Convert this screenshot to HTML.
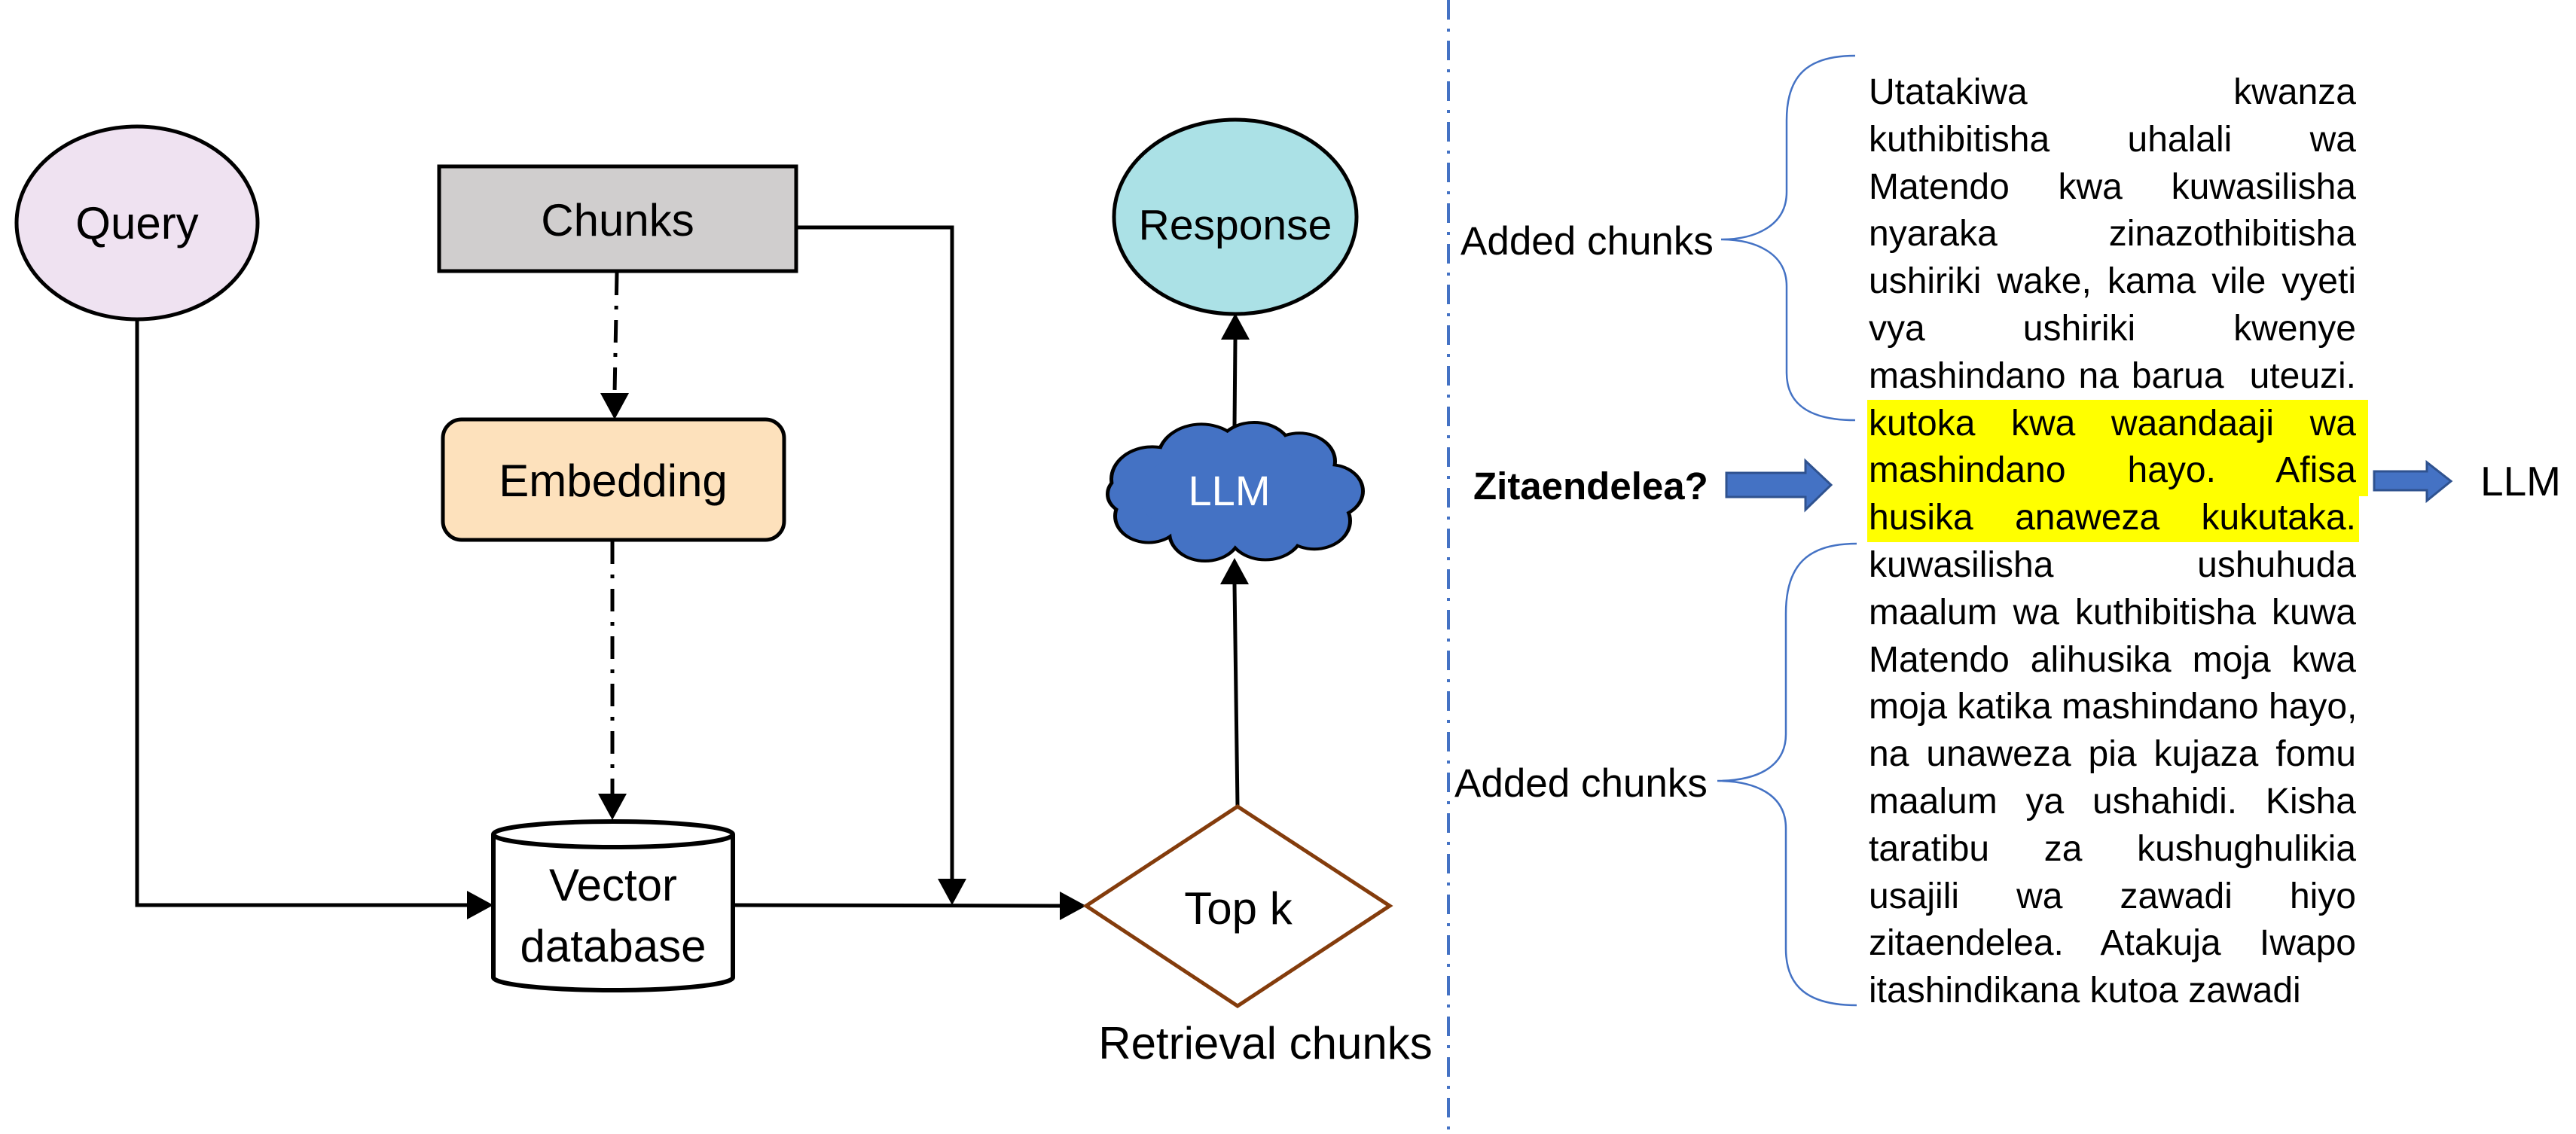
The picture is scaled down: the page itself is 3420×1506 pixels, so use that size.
<!DOCTYPE html>
<html><head><meta charset="utf-8">
<style>
html,body{margin:0;padding:0;background:#fff;}
svg{display:block;}
.t{font-family:"Liberation Sans",sans-serif;}
#blk{position:absolute;left:2481px;top:92px;width:647px;font-family:"Liberation Sans",sans-serif;font-size:48px;line-height:62.8px;color:#000;}
#blk div{text-align:justify;text-align-last:justify;white-space:nowrap;height:62.8px;}
#blk div.l{text-align-last:left;}
</style></head>
<body style="width:3420px;height:1506px;position:relative;overflow:hidden;">
<svg width="3420" height="1506" viewBox="0 0 3420 1506" xmlns="http://www.w3.org/2000/svg" style="position:absolute;left:0;top:0;">
<!-- yellow highlight -->
<rect x="2479" y="531" width="665" height="128" fill="#ffff00"/>
<rect x="2479" y="658" width="653" height="62" fill="#ffff00"/>

<!-- connectors -->
<g stroke="#000" stroke-width="5" fill="none">
<polyline points="182,424 182,1202 622,1202"/>
<polyline points="1057,302 1264,302 1264,1168"/>
<line x1="973" y1="1202" x2="1408" y2="1203"/>
<line x1="819" y1="362" x2="816" y2="522" stroke-dasharray="30,14,5,14"/>
<line x1="813" y1="719" x2="813" y2="1054" stroke-dasharray="30,14,5,14"/>
<line x1="1643" y1="1071" x2="1639" y2="776"/>
<line x1="1639" y1="566" x2="1640" y2="451"/>
</g>
<g fill="#000">
<polygon points="655,1202 620,1183 620,1221"/>
<polygon points="1264,1202 1245,1167 1283,1167"/>
<polygon points="1442,1203 1407,1184 1407,1222"/>
<polygon points="816,557 797,522 835,522"/>
<polygon points="813,1089 794,1054 832,1054"/>
<polygon points="1639,741 1620,776 1658,776"/>
<polygon points="1640,416 1621,451 1659,451"/>
</g>

<!-- Query -->
<ellipse cx="182" cy="296" rx="160" ry="128" fill="#efe2f1" stroke="#000" stroke-width="5"/>
<text class="t" x="182" y="317" font-size="60" text-anchor="middle">Query</text>
<!-- Chunks -->
<rect x="583" y="221" width="474" height="139" fill="#d0cece" stroke="#000" stroke-width="5"/>
<text class="t" x="820" y="313" font-size="60" text-anchor="middle">Chunks</text>
<!-- Embedding -->
<rect x="588" y="557" width="453" height="160" rx="25" fill="#fde1bc" stroke="#000" stroke-width="5"/>
<text class="t" x="814" y="659" font-size="60" text-anchor="middle">Embedding</text>
<!-- Cylinder -->
<path d="M655,1108 L655,1298 A159,17 0 0 0 973,1298 L973,1108" fill="#fff" stroke="#000" stroke-width="6"/>
<ellipse cx="814" cy="1108" rx="159" ry="17" fill="#fff" stroke="#000" stroke-width="6"/>
<text class="t" x="814" y="1196" font-size="60" text-anchor="middle">Vector</text>
<text class="t" x="814" y="1277" font-size="60" text-anchor="middle">database</text>
<!-- Diamond -->
<polygon points="1643,1071 1845,1203 1643,1336 1442,1203" fill="#fff" stroke="#843c0c" stroke-width="5"/>
<text class="t" x="1644" y="1227" font-size="60" text-anchor="middle">Top k</text>
<text class="t" x="1680" y="1406" font-size="60" text-anchor="middle">Retrieval chunks</text>
<!-- Response -->
<ellipse cx="1640" cy="288" rx="161" ry="129" fill="#abe1e6" stroke="#000" stroke-width="5"/>
<text class="t" x="1640" y="318" font-size="57" text-anchor="middle">Response</text>
<!-- Cloud -->
<g transform="translate(0,653) scale(1,0.79) translate(0,-821)">
<g fill="#4472c4" stroke="#000" stroke-width="10">
<circle cx="1530" cy="800" r="52"/><circle cx="1595" cy="765" r="55"/><circle cx="1665" cy="755" r="48"/>
<circle cx="1725" cy="770" r="45"/><circle cx="1765" cy="820" r="42"/><circle cx="1745" cy="870" r="45"/>
<circle cx="1680" cy="885" r="48"/><circle cx="1600" cy="890" r="45"/><circle cx="1525" cy="862" r="42"/>
<circle cx="1505" cy="825" r="32"/>
</g>
<g fill="#4472c4">
<circle cx="1530" cy="800" r="52"/><circle cx="1595" cy="765" r="55"/><circle cx="1665" cy="755" r="48"/>
<circle cx="1725" cy="770" r="45"/><circle cx="1765" cy="820" r="42"/><circle cx="1745" cy="870" r="45"/>
<circle cx="1680" cy="885" r="48"/><circle cx="1600" cy="890" r="45"/><circle cx="1525" cy="862" r="42"/>
<circle cx="1505" cy="825" r="32"/>
<ellipse cx="1640" cy="825" rx="130" ry="80"/>
</g>
</g>
<text class="t" x="1632" y="671" font-size="56" text-anchor="middle" fill="#fff">LLM</text>

<!-- divider -->
<line x1="1923" y1="0" x2="1923" y2="1506" stroke="#4472c4" stroke-width="4" stroke-dasharray="26,12,4,12"/>

<!-- braces -->
<g stroke="#4472c4" stroke-width="2.5" fill="none">
<path d="M2463,74 C2400,74 2372,100 2372,160 L2372,255 C2372,300 2330,318 2285,318 C2330,318 2372,336 2372,380 L2372,495 C2372,535 2400,558 2463,558"/>
<path d="M2465,722 C2400,722 2371,750 2371,815 L2371,975 C2371,1020 2330,1037 2280,1037 C2330,1037 2371,1055 2371,1100 L2371,1260 C2371,1310 2400,1335 2465,1335"/>
</g>
<text class="t" x="1939" y="338" font-size="53">Added chunks</text>
<text class="t" x="1931" y="1058" font-size="53">Added chunks</text>
<text class="t" x="1956" y="663" font-size="51" font-weight="bold">Zitaendelea?</text>

<!-- block arrows -->
<polygon points="2292,628 2397,628 2397,612 2431,644 2397,677 2397,660 2292,660" fill="#4472c4" stroke="#2f528f" stroke-width="3"/>
<polygon points="3152,626 3222,626 3222,614 3254,639 3222,665 3222,651 3152,651" fill="#4472c4" stroke="#2f528f" stroke-width="3"/>
<text class="t" x="3293" y="658" font-size="55">LLM</text>
</svg>
<div id="blk">
<div>Utatakiwa kwanza</div>
<div>kuthibitisha uhalali wa</div>
<div>Matendo kwa kuwasilisha</div>
<div>nyaraka zinazothibitisha</div>
<div>ushiriki wake, kama vile vyeti</div>
<div>vya ushiriki kwenye</div>
<div>mashindano na barua&nbsp; uteuzi.</div>
<div>kutoka kwa waandaaji wa</div>
<div>mashindano hayo. Afisa</div>
<div>husika anaweza kukutaka.</div>
<div>kuwasilisha ushuhuda</div>
<div>maalum wa kuthibitisha kuwa</div>
<div>Matendo alihusika moja kwa</div>
<div>moja katika mashindano hayo,</div>
<div>na unaweza pia kujaza fomu</div>
<div>maalum ya ushahidi. Kisha</div>
<div>taratibu za kushughulikia</div>
<div>usajili wa zawadi hiyo</div>
<div>zitaendelea. Atakuja Iwapo</div>
<div class="l">itashindikana kutoa zawadi</div>
</div>
</body></html>
